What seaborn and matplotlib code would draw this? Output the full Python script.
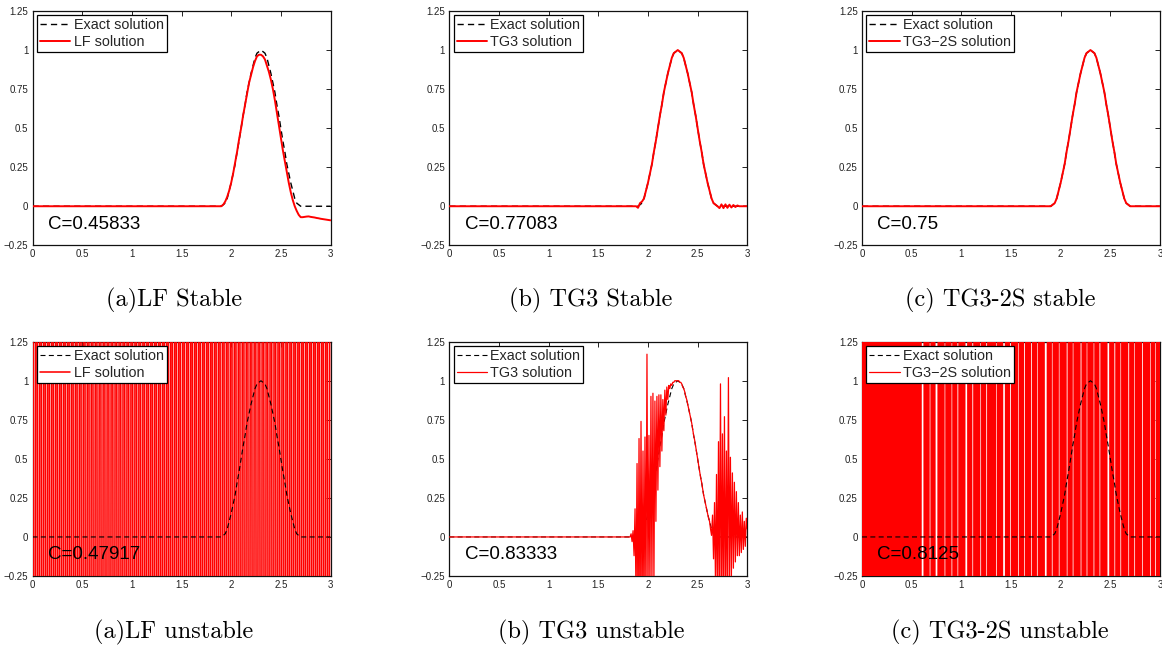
import numpy as np
import matplotlib
matplotlib.use("Agg")
import matplotlib.pyplot as plt
import seaborn as sns

# ---------------- data ----------------
x_ticks = [0, 0.5, 1, 1.5, 2, 2.5, 3]
x_tick_labels = ["0", "0.5", "1", "1.5", "2", "2.5", "3"]
y_ticks = [-0.25, 0, 0.25, 0.5, 0.75, 1, 1.25]
y_tick_labels = ["\u22120.25", "0", "0.25", "0.5", "0.75", "1", "1.25"]

# coarse grid (dx = 0.02) and fine grid (dx = 0.01) on [0, 3]
x_coarse = np.linspace(0, 3, 151)
x_fine = np.linspace(0, 3, 301)

exact_bump = [0.01, 0.02, 0.05, 0.10, 0.15, 0.21, 0.27, 0.35, 0.42, 0.50,
              0.58, 0.65, 0.73, 0.79, 0.85, 0.90, 0.95, 0.98, 0.99, 1.00,
              0.99, 0.98, 0.95, 0.90, 0.85, 0.79, 0.73, 0.65, 0.58, 0.50,
              0.42, 0.35, 0.27, 0.21, 0.15, 0.10, 0.05, 0.02, 0.01]
exact = [0.0] * 96 + exact_bump + [0.0] * 16

lf_stable = [0.0] * 95 + [
    0.00, 0.01, 0.03, 0.06, 0.10, 0.15, 0.21, 0.28, 0.35, 0.43,
    0.50, 0.58, 0.65, 0.72, 0.79, 0.84, 0.89, 0.93, 0.96, 0.97,
    0.97, 0.96, 0.94, 0.90, 0.86, 0.81, 0.75, 0.68, 0.60, 0.52,
    0.44, 0.36, 0.29, 0.22, 0.15, 0.09, 0.04, 0.00, -0.03, -0.055,
    -0.07, -0.07, -0.068, -0.066, -0.065, -0.068, -0.07, -0.072, -0.075, -0.077,
    -0.08, -0.082, -0.084, -0.086, -0.088, -0.09]

tg3_stable = [0.0] * 95 + [
    -0.01, 0.02, 0.03, 0.05, 0.10, 0.15, 0.21, 0.27, 0.35, 0.42,
    0.50, 0.58, 0.65, 0.73, 0.79, 0.85, 0.90, 0.95, 0.98, 0.99,
    1.00, 0.99, 0.98, 0.95, 0.90, 0.85, 0.79, 0.73, 0.65, 0.58,
    0.50, 0.42, 0.35, 0.27, 0.21, 0.15, 0.10, 0.05, 0.02, 0.01,
    0.00, -0.012, 0.012, -0.012, 0.012, -0.01, 0.01, -0.008, 0.008, -0.005,
    0.005, 0.0, 0.0, 0.0, 0.0, 0.0]

tg3_2s_stable = [0.0] * 96 + [
    0.01, 0.02, 0.05, 0.10, 0.15, 0.21, 0.27, 0.35, 0.42, 0.50,
    0.58, 0.65, 0.73, 0.79, 0.85, 0.90, 0.95, 0.98, 0.99, 1.00,
    0.99, 0.98, 0.95, 0.90, 0.85, 0.79, 0.73, 0.65, 0.58, 0.50,
    0.42, 0.35, 0.27, 0.21, 0.15, 0.10, 0.05, 0.02, 0.01] + [0.0] * 16

lf_unstable = [
    9, -9, 9, -9, 9, -9, 9, -9, 9, -9,
    9, -9, 9, -9, 9, -9, 9, -9, 9, -9,
    9, -9, 9, -9, 9, -9, 9, -9, 9, -9,
    9, -9, 9, -9, 9, -9, 9, -9, 9, -9,
    9, -9, 9, -9, 9, -9, 9, -9, 9, -9,
    9, -9, 9, -9, 9, -9, 9, -9, 9, -9,
    9, -9, 9, -9, 9, -9, 9, -9, 9, -9,
    9, -9, 9, -9, 9, -9, 9, -9, 9, -9,
    9, -9, 9, -9, 9, -9, 9, -9, 9, -9,
    9, -9, 9, -9, 9, -9, 9, -9, 9, -9,
    9, -9, 9, -9, 9, -9, 9, -9, 9, -9,
    9, -9, 9, -9, 9, -9, 9, -9, 9, -9,
    9, -9, 9, -9, 9, -9, 9, -9, 9, -9,
    9, -9, 9, -9, 9, -9, 9, -9, 9, -9,
    9, -9, 9, -9, 9, -9, 9, -9, 9, -9,
    9]

tg3_unstable = [0.0] * 183 + [
    0.02, -0.03, 0.04, -0.12, 0.18, -0.40, 0.47, -0.55, 0.63, -0.60,
    0.74, -0.55, 0.55, -0.50, 0.64, -0.45, 1.17, -0.40, 0.65, -0.35,
    0.90, -0.30, 0.92, -0.28, 0.87, 0.10, 0.90, 0.30, 0.91, 0.45,
    0.91, 0.55, 0.88, 0.68, 0.94, 0.78, 0.96, 0.88, 0.97, 0.95,
    0.98, 0.97, 0.99, 0.99, 1.00, 1.00, 1.00, 1.00,
    1.00, 0.99, 0.99, 0.98, 0.96, 0.95, 0.93, 0.90, 0.88, 0.85,
    0.82, 0.79, 0.76, 0.73, 0.69, 0.65, 0.62, 0.58, 0.54, 0.50,
    0.46, 0.42, 0.38, 0.35, 0.31, 0.27, 0.24, 0.21, 0.18, 0.15,
    0.12, 0.10,
    0.05, 0.01, 0.14, -0.14, 0.22, -0.30, 0.40, -0.40, 0.61, -0.45,
    0.98, -0.50, 0.66, -0.45, 0.77, -0.45, 0.55, -0.40, 1.02, -0.35,
    0.51, -0.25, 0.41, -0.20, 0.35, -0.16, 0.29, -0.12, 0.22, -0.12,
    0.14, -0.10, 0.16, -0.08, 0.10, -0.06, 0.12, 0.05]

tg3_2s_unstable = [
    9, -9, 9, -9, 9, -9, 9, -9, 9, -9,
    9, -9, 9, -9, 9, -9, 9, -9, 9, -9,
    9, -9, 9, -9, 9, -9, 9, -9, 9, -9,
    9, -9, 9, -9, 9, -9, 9, -9, 9, -9,
    9, -9, 9, -9, 9, -9, 9, -9, 9, -9,
    9, -9, 9, -9, 9, -9, 9, -9, 9, -9,
    9,
    9, 9, -9, 9, -9, 9, -9, 9, 9, -9,
    9, -9, 9, -9, -9, -9, 9, -9, 9, -9,
    9, -9, 9, 9, -9, 9, -9, 9, -9, 9,
    9, -9, 9, -9, 9, -9, -9, 9, -9, 9,
    -9, 9, -9, 9, 9, 9, -9, 9, -9, 9,
    -9, -9, 9, -9, 9, -9, 9, -9, 9, 9,
    -9, 9, -9, 9, -9, -9, 9, -9, 9, -9,
    9, -9, 9, -9, 9, 9, -9, 9, -9, 9,
    -9, 9, 9, 9, -9, 9, -9, 9, -9, -9,
    9, -9, 9, -9, 9, -9, 9, 9, -9, 9,
    -9, 9, -9, -9, 9, -9, 9, -9, 9, -9,
    -9, 9, -9, 9, -9, 9, 9, -9, 9, -9,
    9, -9, 9, -9, -9, -9, 9, -9, 9, -9,
    9, 9, -9, 9, -9, 9, -9, 9, 9, -9,
    9, -9, 9, -9, 9, -9, -9, 9, -9, 9,
    -9, 9, 9, -9, 9, -9, 9, -9, 9, -9,
    -9, 9, -9, 9, -9, 9, 9, -9, 9, -9,
    9, -9, 9, 9, -9, 9, -9, 9, -9, -9,
    9, -9, 9, -9, 9, -9, 9, 9, 9, -9,
    9, -9, 9, -9, -9, 9, -9, 9, -9, 9,
    9, -9, 9, -9, 9, -9, 9, -9, -9, 9,
    -9, 9, -9, 9, 9, -9, 9, -9, 9, -9,
    9, -9, -9, 9, -9, 9, -9, 9, -9, 9,
    9, -9, 9, -9, 9, 9, -9, 9, -9, 9]

method_labels = ["LF solution", "TG3 solution", "TG3\u22122S solution"]
courant_stable = ["C=0.45833", "C=0.77083", "C=0.75"]
courant_unstable = ["C=0.47917", "C=0.83333", "C=0.8125"]
captions_stable = ["(a)LF Stable", "(b) TG3 Stable", "(c) TG3-2S stable"]
captions_unstable = ["(a)LF unstable", "(b) TG3 unstable", "(c) TG3-2S unstable"]

# ---------------- style ----------------
sns.set_theme(style="white")
plt.rcParams["font.family"] = ["Liberation Sans", "DejaVu Sans"]
plt.rcParams["axes.unicode_minus"] = True

fig = plt.figure(figsize=(11.62, 6.49), dpi=100)
W, H = 1162.0, 649.0
col_left = [32.5, 449.3, 862.0]
ax_w = 298.0
row_top = [11.0, 341.7]
ax_h = 234.3

RED = "#ff0000"
DASH = (0, (4.5, 3.0))


def style_axes(ax):
    ax.set_xlim(0, 3)
    ax.set_ylim(-0.25, 1.25)
    ax.set_xticks(x_ticks)
    ax.set_xticklabels(x_tick_labels)
    ax.set_yticks(y_ticks)
    ax.set_yticklabels(y_tick_labels)
    ax.tick_params(direction="in", top=True, right=True, length=3.5, width=0.7,
                   labelsize=7, colors="#222222", pad=3)
    for s in ax.spines.values():
        s.set_visible(True)
        s.set_color("#111111")
        s.set_linewidth(0.9)
    ax.set_xlabel("")
    ax.set_ylabel("")
    ax.set_facecolor("white")


def make_ax(r, c):
    left = col_left[c] / W
    bottom = 1 - (row_top[r] + ax_h) / H
    return fig.add_axes([left, bottom, ax_w / W, ax_h / H])


def add_legend(ax):
    leg = ax.legend(loc="upper left", frameon=True, fancybox=False, fontsize=10.4,
                    borderaxespad=0.3, borderpad=0.2, labelspacing=0.2,
                    handlelength=2.1, handletextpad=0.25, framealpha=1)
    leg.get_frame().set_edgecolor("black")
    leg.get_frame().set_linewidth(0.9)
    leg.get_frame().set_facecolor("white")
    leg.set_zorder(10)


stable_series = [lf_stable, tg3_stable, tg3_2s_stable]
unstable_series = [lf_unstable, tg3_unstable, tg3_2s_unstable]
unstable_x = [x_coarse, x_fine, x_fine]
unstable_lw = [1.15, 0.9, 0.9]

# top row: stable
for c in range(3):
    ax = make_ax(0, c)
    sns.lineplot(x=x_coarse, y=exact, ax=ax, color="black", linestyle=DASH,
                 linewidth=1.0, label="Exact solution", estimator=None, sort=False, zorder=2)
    sns.lineplot(x=x_coarse, y=stable_series[c], ax=ax, color=RED, linewidth=1.4,
                 label=method_labels[c], estimator=None, sort=False, zorder=3)
    style_axes(ax)
    add_legend(ax)
    ax.text(0.155, -0.115, courant_stable[c], fontsize=13.5, color="black",
            ha="left", va="center", zorder=11)

# bottom row: unstable
for c in range(3):
    ax = make_ax(1, c)
    ex_z = 2 if c == 1 else 4
    sns.lineplot(x=x_coarse, y=exact, ax=ax, color="black", linestyle=DASH,
                 linewidth=0.8, label="Exact solution", estimator=None, sort=False, zorder=ex_z)
    sns.lineplot(x=unstable_x[c], y=unstable_series[c], ax=ax, color=RED,
                 linewidth=unstable_lw[c], label=method_labels[c], estimator=None,
                 sort=False, zorder=3)
    style_axes(ax)
    add_legend(ax)
    ax.text(0.155, -0.115, courant_unstable[c], fontsize=13.5, color="black",
            ha="left", va="center", zorder=11)

# captions
cap_x = [174, 591, 1000]
for c in range(3):
    fig.text(cap_x[c] / W, 1 - 300 / H, captions_stable[c], ha="center", va="center",
             fontsize=17.5, family=["cmr10", "DejaVu Serif"], color="black")
    fig.text(cap_x[c] / W, 1 - 632 / H, captions_unstable[c], ha="center", va="center",
             fontsize=17.5, family=["cmr10", "DejaVu Serif"], color="black")

fig.savefig("out.png", dpi=100, facecolor="white")
